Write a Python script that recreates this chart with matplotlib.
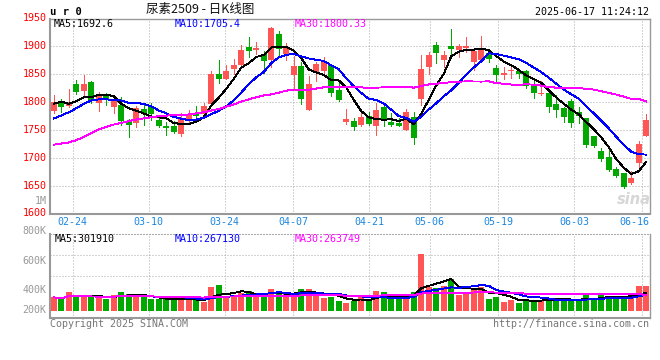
import matplotlib
matplotlib.use("Agg")
import matplotlib.pyplot as plt
import matplotlib.transforms as mtransforms
import numpy as np
import pandas as pd

plt.rcParams['lines.scale_dashes'] = False

# ---------------- data ----------------
dates = ['02-19', '02-20', '02-21', '02-24', '02-25', '02-26', '02-27', '02-28',
         '03-03', '03-04', '03-05', '03-06', '03-07', '03-10', '03-11', '03-12',
         '03-13', '03-14', '03-17', '03-18', '03-19', '03-20', '03-21', '03-24',
         '03-25', '03-26', '03-27', '03-28', '03-31', '04-01', '04-02', '04-03',
         '04-07', '04-08', '04-09', '04-10', '04-11', '04-14', '04-15', '04-16',
         '04-17', '04-18', '04-21', '04-22', '04-23', '04-24', '04-25', '04-28',
         '04-29', '04-30', '05-06', '05-07', '05-08', '05-09', '05-12', '05-13',
         '05-14', '05-15', '05-16', '05-19', '05-20', '05-21', '05-22', '05-23',
         '05-26', '05-27', '05-28', '05-29', '05-30', '06-03', '06-04', '06-05',
         '06-06', '06-09', '06-10', '06-11', '06-12', '06-13', '06-16', '06-17']

opens = [1784, 1799, 1793, 1832, 1819, 1835, 1797, 1810, 1790, 1794,
         1765, 1761, 1787, 1792, 1768, 1757, 1757, 1743, 1765, 1780,
         1777, 1795, 1849, 1841, 1859, 1865, 1898, 1893, 1886, 1874,
         1921, 1885, 1848, 1864, 1785, 1853, 1855, 1866, 1821, 1764,
         1766, 1759, 1774, 1757, 1790, 1763, 1762, 1749, 1772, 1805,
         1862, 1901, 1875, 1899, 1893, 1896, 1871, 1874, 1887, 1860,
         1848, 1854, 1855, 1855, 1831, 1814, 1816, 1796, 1788, 1801,
         1782, 1770, 1739, 1712, 1701, 1679, 1672, 1654, 1691, 1739]
highs = [1811, 1805, 1823, 1839, 1847, 1836, 1818, 1816, 1812, 1809,
         1769, 1793, 1794, 1797, 1775, 1763, 1765, 1780, 1785, 1793,
         1797, 1855, 1874, 1865, 1877, 1901, 1916, 1907, 1890, 1934,
         1926, 1905, 1881, 1871, 1845, 1871, 1880, 1868, 1833, 1786,
         1770, 1787, 1782, 1797, 1793, 1780, 1771, 1787, 1782, 1883,
         1889, 1907, 1891, 1929, 1903, 1915, 1892, 1917, 1888, 1865,
         1861, 1864, 1858, 1856, 1837, 1836, 1816, 1812, 1791, 1804,
         1791, 1771, 1739, 1717, 1717, 1683, 1673, 1676, 1730, 1777]
lows = [1780, 1781, 1790, 1814, 1811, 1797, 1784, 1794, 1780, 1758,
        1736, 1754, 1758, 1768, 1755, 1740, 1744, 1738, 1762, 1771,
        1770, 1793, 1834, 1840, 1850, 1861, 1879, 1885, 1852, 1862,
        1879, 1875, 1821, 1796, 1785, 1837, 1846, 1810, 1801, 1760,
        1750, 1756, 1758, 1741, 1757, 1757, 1756, 1749, 1724, 1794,
        1850, 1869, 1861, 1885, 1880, 1889, 1857, 1873, 1871, 1836,
        1840, 1843, 1842, 1825, 1806, 1812, 1782, 1773, 1763, 1755,
        1762, 1719, 1718, 1693, 1676, 1666, 1645, 1652, 1679, 1739]
closes = [1799, 1790, 1800, 1817, 1832, 1801, 1810, 1803, 1803, 1765,
          1759, 1789, 1778, 1777, 1756, 1752, 1745, 1771, 1777, 1775,
          1793, 1850, 1841, 1855, 1865, 1892, 1891, 1896, 1873, 1932,
          1894, 1895, 1863, 1805, 1831, 1867, 1872, 1816, 1803, 1769,
          1755, 1773, 1760, 1785, 1766, 1758, 1757, 1782, 1735, 1859,
          1883, 1887, 1883, 1894, 1899, 1899, 1890, 1893, 1877, 1848,
          1851, 1857, 1850, 1828, 1816, 1816, 1791, 1785, 1773, 1762,
          1775, 1723, 1721, 1698, 1677, 1667, 1647, 1663, 1724, 1767]

ma5 = [1796, 1800, 1796, 1801, 1807.6, 1808, 1812, 1812.6, 1809.8, 1796.4,
       1788, 1783.8, 1778.8, 1773.6, 1771.8, 1770.4, 1761.6, 1760.2, 1760.2, 1764,
       1772.2, 1793.2, 1807.2, 1822.8, 1840.8, 1860.6, 1868.8, 1879.8, 1883.4, 1896.8,
       1897.2, 1898, 1891.4, 1877.8, 1857.6, 1852.2, 1847.6, 1838.2, 1837.8, 1825.4,
       1803, 1783.2, 1772, 1768.4, 1767.8, 1768.4, 1765.2, 1769.6, 1759.6, 1778.2,
       1803.2, 1829.2, 1849.4, 1881.2, 1889.2, 1892.4, 1893, 1895, 1891.6, 1881.4,
       1871.8, 1865.2, 1856.6, 1846.8, 1840.4, 1833.5, 1820.3, 1807.3, 1796.3, 1785.5,
       1777.2, 1763.6, 1750.8, 1735.8, 1718.8, 1697.2, 1682, 1670.4, 1675.6, 1692.6]
ma10 = [1770, 1775, 1781, 1788, 1796, 1802, 1804, 1804, 1803, 1802,
        1798, 1797.9, 1795.7, 1791.7, 1784.1, 1779.2, 1772.7, 1769.5, 1766.9, 1767.9,
        1771.3, 1777.4, 1783.7, 1791.5, 1802.4, 1816.4, 1831, 1843.5, 1853.1, 1868.8,
        1878.9, 1883.4, 1885.6, 1880.6, 1877.2, 1874.7, 1872.8, 1864.8, 1857.8, 1841.5,
        1827.6, 1815.4, 1805.1, 1803.1, 1796.6, 1785.7, 1774.2, 1770.8, 1764, 1773,
        1785.8, 1797.2, 1809.5, 1820.4, 1833.7, 1847.8, 1861.1, 1872.2, 1886.4, 1885.3,
        1882.1, 1879.1, 1875.8, 1869.2, 1860.9, 1852.7, 1842.8, 1832, 1821.6, 1813,
        1805.4, 1792, 1779, 1766, 1752.2, 1737.2, 1722.8, 1710.6, 1705.7, 1705.4]
ma30 = [1723, 1725, 1727, 1731, 1737, 1744, 1750, 1755, 1759, 1762,
        1765, 1768, 1770, 1772, 1774, 1775, 1776, 1776.5, 1777, 1779,
        1781, 1784, 1787, 1791, 1795, 1800, 1804, 1808, 1811, 1812.9,
        1816.1, 1819.6, 1821.7, 1821.3, 1821.2, 1823.4, 1825.5, 1825.9, 1825.9, 1826.1,
        1825.9, 1825.4, 1824.8, 1825.1, 1825.4, 1825.6, 1826, 1826.4, 1825, 1827.8,
        1830.8, 1832, 1833.4, 1834.7, 1835.8, 1836.1, 1836, 1835.9, 1836.1, 1833.3,
        1831.8, 1830.6, 1830.1, 1830.9, 1830.4, 1828.7, 1826, 1825, 1824, 1823.8,
        1824.4, 1822.8, 1821.5, 1818.6, 1815.6, 1812.6, 1808.9, 1804.9, 1804.6, 1800.33]

volumes_k = [223, 189, 312, 234, 234, 234, 223, 200, 262, 312,
             279, 223, 223, 189, 189, 189, 189, 189, 189, 178,
             150, 395, 429, 234, 267, 301, 329, 234, 251, 362,
             279, 301, 234, 362, 362, 262, 217, 234, 167, 134,
             167, 234, 178, 334, 312, 189, 189, 234, 312, 947,
             390, 379, 412, 524, 262, 290, 356, 401, 200, 228,
             150, 178, 134, 178, 178, 178, 212, 195, 195, 156,
             156, 279, 178, 279, 245, 195, 245, 245, 412, 412]

tick_dates = ['02-24', '03-10', '03-24', '04-07', '04-21', '05-06', '05-19', '06-03', '06-16']
price_ticks = [1600, 1650, 1700, 1750, 1800, 1850, 1900, 1950]
vol_labels = ['1M', '800K', '600K', '400K', '200K']
header_code = 'u r 0'
title_text = '尿素2509 - 日K线图'
timestamp = '2025-06-17 11:24:12'
ma_price_text = ['MA5:1692.6', 'MA10:1705.4', 'MA30:1800.33']
ma_vol_text = ['MA5:301910', 'MA10:267130', 'MA30:263749']
copyright_text = 'Copyright 2025 SINA.COM'
url_text = 'http://finance.sina.com.cn'

# ---------------- style ----------------
W, H = 660, 360
RED = '#ff5555'
GREEN = '#00a800'
MA_COLORS = ['#000000', '#0000ff', '#ff00ff']
GRID = '#aaaaaa'
FRAME = '#999999'
MONO = 'DejaVu Sans Mono'
FS = 7.2
DOT = (0, (0.72, 1.44))
LW = 0.68

fig = plt.figure(figsize=(W / 100, H / 100), dpi=100)
fig.patch.set_facecolor('white')


def rect(l, t, r, b):
    return [l / W, 1 - b / H, (r - l) / W, (b - t) / H]


def fx(px):
    return px / W


def fy(py):
    return 1 - py / H


ax = fig.add_axes(rect(50, 19, 650, 213.5))
axv = fig.add_axes(rect(50, 234.3, 650, 317.7))

n = len(dates)
x = np.arange(n)
o = np.array(opens, float)
hi = np.array(highs, float)
lo = np.array(lows, float)
c = np.array(closes, float)
v = np.array(volumes_k, float)
up = c >= o
col = [RED if u else GREEN for u in up]

for a in (ax, axv):
    a.set_xlim(-0.5, n - 0.5)
    a.set_xticks([])
    a.set_yticks([])
    a.set_facecolor('white')
    for s in a.spines.values():
        s.set_color(FRAME)
        s.set_linewidth(1.0)
    a.spines['left'].set_linewidth(1.5)
    a.spines['bottom'].set_linewidth(1.5)

ax.set_ylim(1600, 1947.7)
vb, vt = -117, 1276
axv.set_ylim(vb, vt)
axv.spines['top'].set_linestyle(DOT)
axv.spines['top'].set_linewidth(0.75)
axv.spines['top'].set_color(GRID)

# grid positions (sina places date grid on n-1 spacing)
grid_pos = [dates.index(d) * n / (n - 1) - 0.5 for d in tick_dates]

for p in price_ticks[1:-1]:
    ax.axhline(p, color=GRID, lw=0.75, ls=DOT, zorder=0)
for gp in grid_pos:
    ax.axvline(gp, color=GRID, lw=0.75, ls=DOT, zorder=0)
    axv.axvline(gp, color=GRID, lw=0.75, ls=DOT, zorder=0)
for f in (0.5, 0.75):
    axv.axhline(vb + f * (vt - vb), color=GRID, lw=0.75, ls=DOT, zorder=0)

# candles
ax.vlines(x, lo, hi, colors=col, linewidth=LW, zorder=2, antialiased=False)
ax.bar(x, np.maximum(np.abs(c - o), 0.9), bottom=np.minimum(o, c), width=0.8,
       color=col, linewidth=0, zorder=3, antialiased=False)
for series, mc in zip((ma5, ma10, ma30), MA_COLORS):
    ax.plot(x, series, color=mc, lw=LW, zorder=4, antialiased=False)

# volume
axv.bar(x, v, width=0.8, color=col, linewidth=0, zorder=2, antialiased=False)
vs = pd.Series(v)
for win, mc in zip((5, 10, 30), MA_COLORS):
    axv.plot(x, vs.rolling(win, min_periods=1).mean(), color=mc, lw=LW,
             zorder=3, antialiased=False)

# price axis labels
trans_p = mtransforms.blended_transform_factory(ax.transAxes, ax.transData)
for p in price_ticks:
    ax.text(-3.5 / 600, p, str(p), transform=trans_p, ha='right', va='center',
            color='#ff0000', fontsize=FS, family=MONO, clip_on=False)

# volume axis labels (as drawn by sina)
vol_label_y = [200.8, 230.7, 260.8, 290, 310]
for lab, py in zip(vol_labels, vol_label_y):
    fig.text(fx(46.7), fy(py), lab, ha='right', va='center', color='#999999',
             fontsize=FS, family=MONO)

# date labels
trans_d = mtransforms.blended_transform_factory(ax.transData, ax.transAxes)
for d, gp in zip(tick_dates, grid_pos):
    xp = 50 + (gp + 0.5) * 600 / n
    if xp + 15 > 649:
        fig.text(fx(649), fy(222), d, ha='right', va='center', color='#1a86e0',
                 fontsize=FS, family=MONO)
    else:
        ax.text(gp, -8.5 / 194.5, d, transform=trans_d, ha='center', va='center',
                color='#1a86e0', fontsize=FS, family=MONO, clip_on=False)

# header texts
fig.text(fx(49.5), fy(12.3), header_code, ha='left', va='center', fontsize=7.6,
         family=MONO, fontweight='bold', color='black')
fig.text(fx(200), fy(9.6), title_text, ha='center', va='center', fontsize=9,
         family=['Noto Sans CJK SC', 'DejaVu Sans'], color='#111111')
fig.text(fx(649), fy(12.2), timestamp, ha='right', va='center', fontsize=FS,
         family=MONO, color='black')

for t, mc, px in zip(ma_price_text, MA_COLORS, (53.5, 175, 295)):
    fig.text(fx(px), fy(24), t, ha='left', va='center', fontsize=FS,
             family=MONO, color=mc)
for t, mc, px in zip(ma_vol_text, MA_COLORS, (54.3, 175, 295)):
    fig.text(fx(px), fy(238.7), t, ha='left', va='center', fontsize=FS,
             family=MONO, color=mc)

fig.text(fx(50), fy(324), copyright_text, ha='left', va='center', fontsize=FS,
         family=MONO, color='#777777')
fig.text(fx(649), fy(324), url_text, ha='right', va='center', fontsize=FS,
         family=MONO, color='#777777')

# watermark
fig.text(fx(634), fy(199), 'sina', ha='center', va='center', fontsize=10.5,
         fontstyle='italic', fontweight='bold', color='#d6d6d6', zorder=1)

fig.savefig('out.png', dpi=100, facecolor='white')
